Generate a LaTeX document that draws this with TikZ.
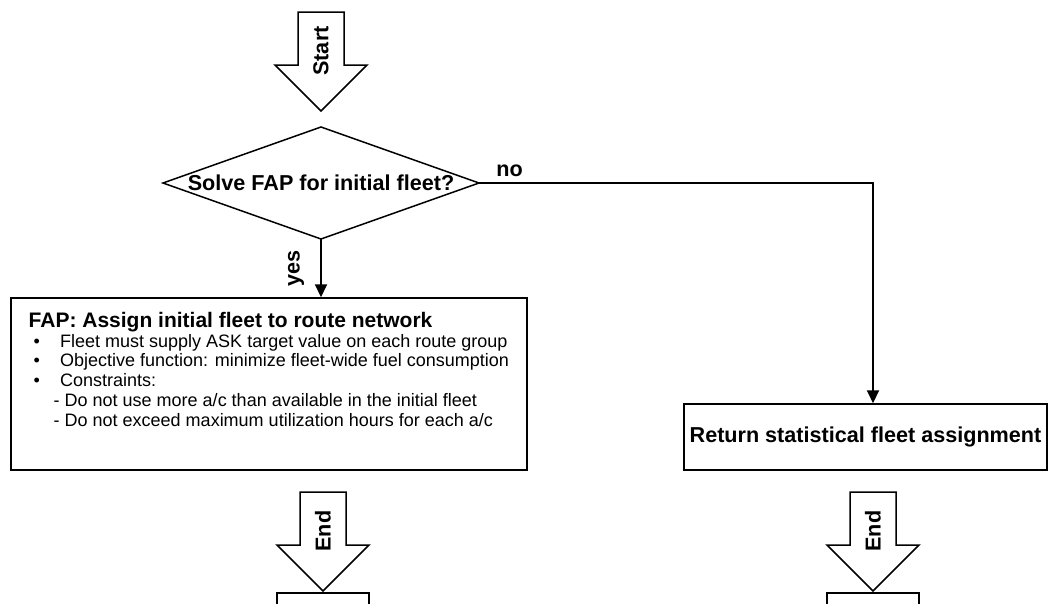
\documentclass[tikz,border=0pt]{standalone}
\usepackage{fontspec}
\setmainfont{Liberation Sans}
\usetikzlibrary{shapes.geometric,arrows.meta}

\tikzset{
  outline/.style={draw=black,line width=1.5pt,line join=miter},
  flow/.style={draw=black,line width=2pt,-{Triangle[length=13pt,width=12pt]}},
  bigbold/.style={font=\fontsize{21.6}{25}\selectfont\bfseries},
  % hollow block arrow pointing down, tip at the pic origin
  pics/downarrow/.style={code={
    \draw[outline,fill=white] (-23,-99) -- (23,-99) -- (23,-46) -- (46,-46)
      -- (0,0) -- (-46,-46) -- (-23,-46) -- cycle;
    \node[bigbold,rotate=90,inner sep=0] (-lbl) at (0,-60) {#1};
  }}
}

\begin{document}
\begin{tikzpicture}[x=1pt,y=-1pt]
\useasboundingbox (0,0) rectangle (1049,603);
\clip (0,0) rectangle (1049,603);

% entry
\pic (start) at (321,111) {downarrow=Start};

% decision
\node[diamond,outline,bigbold,inner sep=0,outer sep=0,aspect=2.82,
      minimum width=316pt,minimum height=112pt] (dia) at (321,183)
      {Solve FAP for initial fleet?};

% FAP process box
\node[outline,inner sep=0,minimum width=516pt,minimum height=172pt] (fap) at (269,384) {};
\node[anchor=base west,inner sep=0,font=\fontsize{18}{19.7}\selectfont] (faptext) at (28.5,327.5)
  {\begin{tabular}[t]{@{}l@{}}
   {\fontsize{21}{19.7}\selectfont\bfseries FAP: Assign initial fleet to route network}\\
   \hspace*{5pt}\makebox[26.5pt][l]{\textbullet}Fleet must supply ASK target value on each route group\\
   \hspace*{5pt}\makebox[26.5pt][l]{\textbullet}Objective function: minimize fleet-wide fuel consumption\\
   \hspace*{5pt}\makebox[26.5pt][l]{\textbullet}Constraints:\\
   \hspace*{25pt}- Do not use more a/c than available in the initial fleet\\
   \hspace*{25pt}- Do not exceed maximum utilization hours for each a/c
   \end{tabular}};

% statistical assignment box
\node[outline,bigbold,inner sep=0,minimum width=363pt,minimum height=66pt] (ret) at (865.5,437)
  {Return statistical fleet assignment};

% connectors
\coordinate (turn) at (873,183);
\draw[flow] (dia.east) -- (turn) -- (turn |- ret.north);
\draw[flow] (dia.south) -- (dia.south |- fap.north);
\node[bigbold,rotate=90,inner sep=0] (yes) at (296,268) {yes};
\node[bigbold,anchor=base,inner sep=0] (no) at (509.5,176.7) {no};

% exits
\pic (endl) at (323,591) {downarrow=End};
\pic (endr) at (873,591) {downarrow=End};
\node[outline,anchor=north,inner sep=0,minimum width=92pt,minimum height=40pt] (sinkl) at (323,592) {};
\node[outline,anchor=north,inner sep=0,minimum width=92pt,minimum height=40pt] (sinkr) at (873,592) {};
\end{tikzpicture}
\end{document}
